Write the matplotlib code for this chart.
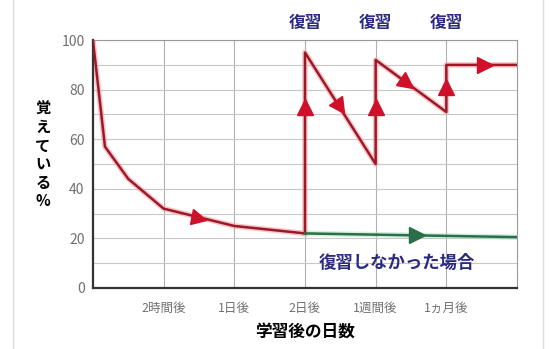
import matplotlib.pyplot as plt
import numpy as np
from matplotlib.lines import Line2D
from matplotlib.markers import MarkerStyle
from matplotlib.transforms import Affine2D

plt.rcParams['font.family'] = ['Noto Sans CJK JP', 'DejaVu Sans']

tick_pos = [1, 2, 3, 4, 5]
tick_labels = ["2時間後", "1日後", "2日後", "1週間後", "1ヵ月後"]

decay_x = [0, 0.17, 0.5, 1, 2, 3]
decay_y = [100, 57, 44, 32, 25, 22]

review_x = [3, 3, 4, 4, 5, 5, 6]
review_y = [22, 95, 50, 92, 71, 90, 90]

noreview_x = [3, 6]
noreview_y = [22, 20.5]

# arrow heads: x, y, direction (dx, dy) in data units
red_arrows = [(1.5, 28.3, 1, -6), (3, 73, 0, 1), (3.49, 73, 1, -45),
              (4, 73, 0, 1), (4.45, 82.5, 1, -21), (5, 81, 0, 1),
              (5.55, 90, 1, 0)]
green_arrows = [(4.58, 21.2, 1, -0.5)]

review_label_x = [3, 4, 5]

red = "#9c1a28"
red_head = "#d0102a"
green = "#2b6e4a"
navy = "#2a2a80"

fig = plt.figure(figsize=(5.5, 3.49), dpi=100)
ax = fig.add_axes([0.169, 0.175, 0.771, 0.71])
ax.set_xlim(0, 6)
ax.set_ylim(0, 100)

ax.set_yticks(np.arange(0, 101, 20))
ax.set_yticks(np.arange(0, 101, 10), minor=True)
ax.set_xticks(tick_pos)
ax.set_xticklabels(tick_labels)
ax.grid(True, which="both", axis="y", color="#c8c8c8", lw=0.8)
ax.grid(True, which="major", axis="x", color="#b0b0b0", lw=0.8)
ax.tick_params(which="both", length=0, colors="#707070")
ax.tick_params(axis="y", labelsize=10, pad=6)
ax.tick_params(axis="x", labelsize=9, pad=10)
for s in ["top", "right"]:
    ax.spines[s].set_color("#999999")
    ax.spines[s].set_linewidth(0.8)
for s in ["left", "bottom"]:
    ax.spines[s].set_color("#333333")
    ax.spines[s].set_linewidth(1.6)

# glow under the lines
ax.plot(decay_x, decay_y, color="#f4a0a8", lw=4, alpha=0.6, zorder=2)
ax.plot(review_x, review_y, color="#f4a0a8", lw=4, alpha=0.6, zorder=2)
ax.plot(noreview_x, noreview_y, color="#a8e0c0", lw=4, alpha=0.5, zorder=2)

ax.plot(decay_x, decay_y, color=red, lw=1.8, zorder=3)
ax.plot(review_x, review_y, color=red, lw=1.8, zorder=3)
ax.plot(noreview_x, noreview_y, color=green, lw=1.8, zorder=3)

fig.canvas.draw()


def head(x, y, dx, dy, color):
    p0 = ax.transData.transform((x, y))
    p1 = ax.transData.transform((x + dx * 0.01, y + dy * 0.01))
    ang = np.degrees(np.arctan2(p1[1] - p0[1], p1[0] - p0[0]))
    m = MarkerStyle(">", transform=Affine2D().rotate_deg(ang))
    ax.plot(x, y, marker=m, ms=11, color=color, mec=color, zorder=4)


for x, y, dx, dy in red_arrows:
    head(x, y, dx, dy, red_head)
for x, y, dx, dy in green_arrows:
    head(x, y, dx, dy, green)

for x in review_label_x:
    ax.text(x, 107, "復習", ha="center", va="center", fontsize=12,
            fontweight="bold", color=navy, clip_on=False)
ax.text(4.3, 10, "復習しなかった場合", ha="center", va="center",
        fontsize=12.5, fontweight="bold", color=navy)

ylabel = "覚\nえ\nて\nい\nる\n%"
fig.text(0.078, 0.556, ylabel, ha="center", va="center", fontsize=11,
         fontweight="bold", linespacing=1.2)
ax.set_xlabel("学習後の日数", fontsize=12, fontweight="bold", labelpad=6)

# faint frame of the original picture
for fx in [0.024, 0.987]:
    fig.add_artist(Line2D([fx, fx], [0, 1], color="#dddddd", lw=1))

fig.savefig("out.png", dpi=100)
